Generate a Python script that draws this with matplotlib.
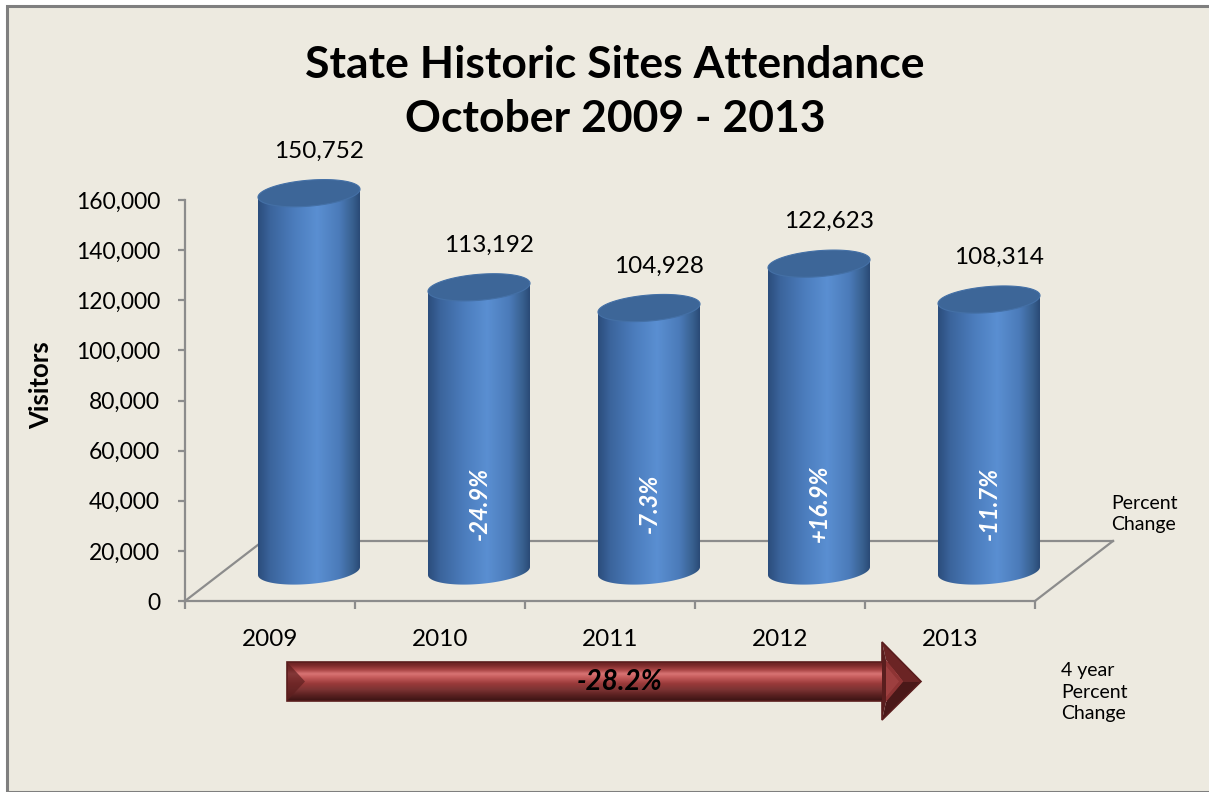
import numpy as np
import matplotlib
matplotlib.use("Agg")
import matplotlib.pyplot as plt
from matplotlib.patches import Polygon, Rectangle
from matplotlib.colors import LinearSegmentedColormap
from matplotlib.ticker import FuncFormatter, MultipleLocator, FixedLocator

# ---------------- data ----------------
years = ["2009", "2010", "2011", "2012", "2013"]
visitors = [150752, 113192, 104928, 122623, 108314]
pct_change = ["", "-24.9%", "-7.3%", "+16.9%", "-11.7%"]
four_year_change = "-28.2%"
title = "State Historic Sites Attendance\nOctober 2009 - 2013"
y_label = "Visitors"

# ---------------- figure ----------------
W, H = 1209, 792
DPI = 100
fig = plt.figure(figsize=(W / DPI, H / DPI), dpi=DPI, facecolor="white")
FONT = ["Lato", "DejaVu Sans"]
plt.rcParams["font.family"] = FONT

BG = "#EDEAE0"
fig.patches.append(Rectangle((7 / W, 0), 1.0, (H - 6) / H, transform=fig.transFigure,
                             facecolor=BG, edgecolor="#7f7f7f", linewidth=2.2, zorder=-10))

# main axes (front plane of the 3-D chart)
ax_l, ax_b = 185 / W, (H - 601) / H
ax_w, ax_h = 850 / W, 401 / H
ax = fig.add_axes([ax_l, ax_b, ax_w, ax_h])
ax.patch.set_alpha(0)
ax.set_xlim(-0.5, len(years) - 0.5)
ax.set_ylim(0, 160000)
for s in ["top", "right"]:
    ax.spines[s].set_visible(False)
for s in ["left", "bottom"]:
    ax.spines[s].set_color("#8c8c8c")
    ax.spines[s].set_linewidth(1.6)
ax.yaxis.set_major_locator(MultipleLocator(20000))
ax.yaxis.set_major_formatter(FuncFormatter(lambda v, p: f"{int(v):,}"))
ax.tick_params(axis="y", direction="out", length=5, width=1.6, color="#8c8c8c",
               pad=13, labelsize=16.5, labelcolor="black")
ax.set_xticks(range(len(years)))
ax.set_xticklabels(years)
ax.xaxis.set_minor_locator(FixedLocator(np.arange(-0.5, len(years), 1.0)))
ax.tick_params(axis="x", which="major", length=0, pad=20, labelsize=17.5)
ax.tick_params(axis="x", which="minor", direction="out", length=6, width=1.6, color="#8c8c8c")
ax.set_ylabel(y_label, fontsize=18.5, fontweight="bold")
ax.yaxis.set_label_coords((53 - 185) / 850, (601 - 385) / 401)

fig.text(615 / W, 1 - 92 / H, title, ha="center", va="center", fontsize=32,
         fontweight="bold", linespacing=1.4)

# overlay in pixel coordinates for 3-D depth drawing
ov = fig.add_axes([0, 0, 1, 1])
ov.set_xlim(0, W)
ov.set_ylim(0, H)
ov.axis("off")
ov.patch.set_alpha(0)

inv = ov.transData.inverted()


def px(x, y):
    return inv.transform(ax.transData.transform((x, y)))


FULL_DX, FULL_DY = 78, 60
DX, DY = FULL_DX / 2, FULL_DY / 2
floor_col = "#8c8c8c"
x0, y0 = px(-0.5, 0)
x1, _ = px(len(years) - 0.5, 0)
ov.plot([x0, x0 + FULL_DX], [y0, y0 + FULL_DY], color=floor_col, lw=1.6, zorder=1)
ov.plot([x0 + FULL_DX, x1 + FULL_DX], [y0 + FULL_DY, y0 + FULL_DY], color=floor_col, lw=1.6, zorder=1)
ov.plot([x1, x1 + FULL_DX], [y0, y0 + FULL_DY], color=floor_col, lw=1.6, zorder=1)

# cylinders
cyl_cmap = LinearSegmentedColormap.from_list(
    "cyl", [(0.0, "#2b4d7c"), (0.12, "#3b649c"), (0.35, "#4b7cbc"),
            (0.58, "#5a8fd2"), (0.80, "#4b7bb9"), (0.93, "#38608f"), (1.0, "#2a4a76")])
grad = np.linspace(0, 1, 256).reshape(1, -1)
R, EH, K = 51, 13, 4
t_low = np.linspace(np.pi, 2 * np.pi, 80)
t_all = np.linspace(0, 2 * np.pi, 160)

for i, v in enumerate(visitors):
    bx, by = px(i, 0)
    _, ty = px(i, v)
    cx = bx + DX
    by += DY
    ty += DY
    body = np.vstack([
        [[cx - R, ty - K]],
        np.column_stack([cx + R * np.cos(t_low), by + EH * np.sin(t_low) + K * np.cos(t_low)]),
        [[cx + R, ty + K]],
    ])
    clip = Polygon(body, closed=True, transform=ov.transData, facecolor="none", edgecolor="none")
    ov.add_patch(clip)
    im = ov.imshow(grad, cmap=cyl_cmap, aspect="auto", interpolation="bilinear",
                   extent=[cx - R, cx + R, by - EH - K - 2, ty + K + 2], zorder=3)
    im.set_clip_path(clip)
    top = np.column_stack([cx + R * np.cos(t_all), ty + EH * np.sin(t_all) + K * np.cos(t_all)])
    ov.add_patch(Polygon(top, closed=True, facecolor="#3d6698", edgecolor="#4470a6",
                         lw=0.8, zorder=4))
    ov.text(cx + 10, ty + 42, f"{v:,}", ha="center", va="center", fontsize=17.5, zorder=5)
    if pct_change[i]:
        _, ly = px(i, 27000)
        ov.text(cx, ly + DY, pct_change[i], rotation=90, ha="center", va="center",
                fontsize=17, fontweight="bold", fontstyle="italic", color="white", zorder=5)

ov.set_xlim(0, W)
ov.set_ylim(0, H)

# side annotations
ov.text(1111, H - 514, "Percent\nChange", ha="left", va="center", fontsize=14, linespacing=1.3)
ov.text(1061, H - 692, "4 year\nPercent\nChange", ha="left", va="center", fontsize=14, linespacing=1.3)

# 4-year arrow
ax_left, ax_bodyR, tip = 287, 882, 921
b_top, b_bot = H - 662, H - 701
h_top, h_bot = H - 642, H - 720
mid = (b_top + b_bot) / 2
arrow = np.array([[ax_left, b_bot], [ax_left, b_top], [ax_bodyR, b_top], [ax_bodyR, h_top],
                  [tip, mid], [ax_bodyR, h_bot], [ax_bodyR, b_bot]])
arr_clip = Polygon(arrow, closed=True, facecolor="none", edgecolor="none")
ov.add_patch(arr_clip)
arr_cmap = LinearSegmentedColormap.from_list(
    "arr", [(0.0, "#3a1414"), (0.15, "#5a2020"), (0.30, "#7d3434"), (0.45, "#9a3a3a"),
            (0.62, "#c85e5e"), (0.70, "#d87474"), (0.80, "#a94545"), (0.92, "#7a2a2a"), (1.0, "#6a2424")])
vgrad = np.linspace(0, 1, 256).reshape(-1, 1)
im2 = ov.imshow(vgrad, cmap=arr_cmap, aspect="auto", interpolation="bilinear", origin="lower",
                extent=[ax_left, tip, b_bot, b_top], zorder=3)
im2.set_clip_path(arr_clip)
# head bevel
ov.add_patch(Polygon([[ax_bodyR, h_top], [tip, mid], [tip - 18, mid], [ax_bodyR + 4, h_top - 18]],
                     closed=True, facecolor="#6b2424", edgecolor="none", zorder=4))
ov.add_patch(Polygon([[ax_bodyR, h_bot], [tip, mid], [tip - 18, mid], [ax_bodyR + 4, h_bot + 18]],
                     closed=True, facecolor="#4a1818", edgecolor="none", zorder=4))
ov.add_patch(Polygon([[ax_bodyR, h_top], [ax_bodyR + 4, h_top - 18], [ax_bodyR + 4, h_bot + 18],
                      [ax_bodyR, h_bot]], closed=True, facecolor="#5a1e1e", edgecolor="none", zorder=4))
ov.add_patch(Polygon([[ax_bodyR + 4, h_top - 18], [tip - 18, mid], [ax_bodyR + 4, h_bot + 18]],
                     closed=True, facecolor="#8e3434", edgecolor="none", zorder=4))
ov.add_patch(Polygon([[ax_bodyR + 4, b_top - 4], [tip - 22, mid], [ax_bodyR + 4, b_bot + 4]],
                     closed=True, facecolor="#a84848", edgecolor="none", alpha=0.6, zorder=4))
# left bevel
ov.add_patch(Polygon([[ax_left, b_top], [ax_left + 18, mid], [ax_left, b_bot]], closed=True,
                     facecolor="#5e1f1f", edgecolor="none", alpha=0.7, zorder=4))
ov.add_patch(Polygon(arrow, closed=True, facecolor="none", edgecolor="#5a1d1d", lw=1.2, zorder=5))
ov.text(620, mid, four_year_change, ha="center", va="center", fontsize=20,
        fontweight="bold", fontstyle="italic", color="black", zorder=6)

fig.savefig("out.png", dpi=DPI, facecolor="white")
